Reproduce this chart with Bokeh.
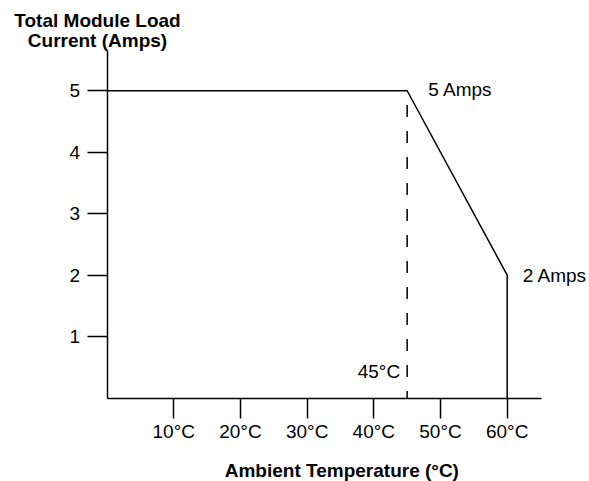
from bokeh.plotting import figure
from bokeh.models import Range1d, FixedTicker, Label, LinearAxis
from bokeh.embed import file_html
from bokeh.resources import INLINE

# ---- data ----
curve_temp = [0, 45, 60, 60]
curve_amps = [5, 5, 2, 0]
derate_temp = [45, 45]
derate_amps = [0, 5]
x_ticks = [10, 20, 30, 40, 50, 60]
x_tick_labels = ["10°C", "20°C", "30°C", "40°C", "50°C", "60°C"]
y_ticks = [1, 2, 3, 4, 5]
y_tick_labels = ["1", "2", "3", "4", "5"]
x_axis_end = 65.1
y_axis_end = 5.66

FONT = "Liberation Sans"
FS = "19px"

W, H = 589, 481
KX = 6.668    # px per degree
KY = 61.45    # px per amp
X0 = 106.6    # pixel of x = 0
Y0 = 397.5    # pixel of y = 0

p = figure(width=W, height=H, output_backend="svg", toolbar_location=None,
           x_axis_type=None, y_axis_type=None,
           x_range=Range1d(-X0 / KX, (W - X0) / KX),
           y_range=Range1d(-(H - Y0) / KY, Y0 / KY),
           min_border=0)
p.outline_line_color = None
p.background_fill_color = "white"
p.border_fill_color = "white"

xax = LinearAxis(fixed_location=0, bounds=(0, x_axis_end), ticker=FixedTicker(ticks=x_ticks))
yax = LinearAxis(fixed_location=0, bounds=(0, y_axis_end), ticker=FixedTicker(ticks=y_ticks))
xax.major_label_overrides = {t: l for t, l in zip(x_ticks, x_tick_labels)}
yax.major_label_overrides = {t: l for t, l in zip(y_ticks, y_tick_labels)}
xax.major_label_standoff = 3
yax.major_label_standoff = 7
for ax in (xax, yax):
    ax.axis_line_color = "black"
    ax.axis_line_width = 1.5
    ax.major_tick_line_color = "black"
    ax.major_tick_line_width = 1.5
    ax.major_tick_in = 0
    ax.major_tick_out = 20
    ax.minor_tick_line_color = None
    ax.major_label_text_font = FONT
    ax.major_label_text_font_size = FS
    ax.major_label_text_color = "black"
p.add_layout(xax, "below")
p.add_layout(yax, "left")

p.line(curve_temp, curve_amps, line_color="black", line_width=1.5)
p.line(derate_temp, derate_amps, line_color="black", line_width=1.5,
       line_dash="12 14", line_dash_offset=5)

def lab(text, x, y, xo=0, yo=0, align="left", bold=False):
    p.add_layout(Label(x=x, y=y, x_offset=xo, y_offset=yo, text=text,
                       text_font=FONT, text_font_size=FS, text_color="black",
                       text_align=align, text_baseline="middle",
                       text_font_style="bold" if bold else "normal"))

lab("5 Amps", curve_temp[1], curve_amps[1], xo=21, yo=1)
lab("2 Amps", curve_temp[2], curve_amps[2], xo=15.5, yo=0)
lab("45°C", derate_temp[0], 0, xo=-7, yo=27, align="right")
lab("Total Module Load", 0, 0, xo=-9.6, yo=Y0 - 19.7, align="center", bold=True)
lab("Current (Amps)", 0, 0, xo=-9.6, yo=Y0 - 40.3, align="center", bold=True)
lab("Ambient Temperature  (°C)", 35, 0, xo=4, yo=Y0 - 469.5, align="center", bold=True)

open("out.html", "w").write(file_html(p, INLINE))
